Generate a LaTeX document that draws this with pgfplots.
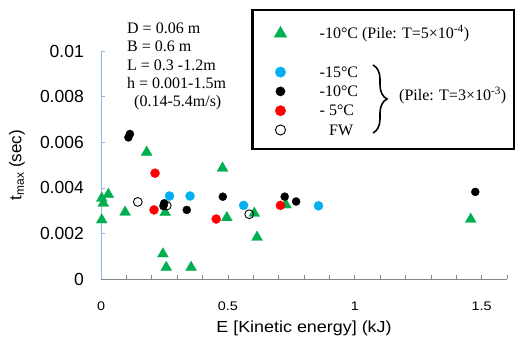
\documentclass[border=0pt]{standalone}
\usepackage{pgfplots}
\pgfplotsset{compat=1.18}
\usepackage{fontspec}
\setmainfont{Liberation Serif}
\newfontfamily\arial{Liberation Sans}
\newfontfamily\arialx{Liberation Sans}[FakeStretch=1.15]
\newfontfamily\arialxl{Liberation Sans}[FakeStretch=1.12]
\usetikzlibrary{decorations.pathreplacing}
\definecolor{mgreen}{RGB}{0,176,80}
\definecolor{mblue}{RGB}{0,176,240}
\definecolor{mred}{RGB}{255,0,0}
\definecolor{xgray}{RGB}{134,134,134}
\definecolor{yblue}{RGB}{141,180,227}
\newcommand{\lf}{\fontsize{16pt}{18pt}\selectfont}
\begin{document}
\begin{tikzpicture}
\useasboundingbox (-101pt,-61pt) rectangle (415pt,279pt);
\begin{axis}[
  at={(0pt,0pt)}, anchor=south west,
  scale only axis, width=406pt, height=228pt,
  xmin=0, xmax=1.6, ymin=0, ymax=0.01,
  clip=false,
  axis x line*=bottom, axis y line*=left,
  x axis line style={-, draw=xgray, line width=0.8pt},
  y axis line style={-, draw=yblue, line width=0.8pt},
  xtick={0,0.1,0.2,0.3,0.4,0.5,0.6,0.7,0.8,0.9,1,1.1,1.2,1.3,1.4,1.5,1.6},
  xticklabels={0,,,,,0.5,,,,,1,,,,,1.5,},
  ytick={0,0.002,0.004,0.006,0.008,0.01},
  yticklabels={0,0.002,0.004,0.006,0.008,0.01},
  scaled x ticks=false, scaled y ticks=false,
  tick align=inside,
  major tick length=4.5pt,
  x tick style={draw=xgray, line width=0.6pt},
  y tick style={draw=yblue, line width=0.6pt},
  xticklabel style={font={\arialx\fontsize{12.5pt}{14pt}\selectfont}, anchor=north, inner sep=0pt, yshift=-23pt},
  yticklabel style={font={\arial\fontsize{17.5pt}{20pt}\selectfont}, anchor=east, inner sep=0pt, xshift=-17pt},
  xlabel={E [Kinetic energy] (kJ)},
  xlabel style={font={\arialxl\fontsize{16pt}{18pt}\selectfont}, at={(axis description cs:0.5,-0.182)}, anchor=north, inner sep=0pt},
  ylabel={t\textsubscript{max} (sec)},
  ylabel style={font={\arial\fontsize{17pt}{20pt}\selectfont}, at={(axis description cs:-0.2069,0.5)}, anchor=center, rotate=0, inner sep=0pt},
  legend image code/.code={\draw[#1, every mark/.append style={scale=1.15}] plot coordinates {(0pt,0pt)};},
  legend cell align=left,
  legend style={at={(axis description cs:0.4261,1.12)}, anchor=north west,
    draw=none, fill=none, inner sep=0pt, row sep=0pt, column sep=33pt,
    font=\lf, nodes={inner sep=0pt, text height=14.7pt, text depth=4.6pt},
    row 2/.style={nodes={text height=17.7pt, text depth=4.6pt}}},
]
\addplot[only marks, mark=triangle*, mark size=6.3pt, mark options={fill=mgreen, draw=mgreen, line width=0.3pt}] coordinates {
(0.029,0.00371) (0.003,0.00354) (0.009,0.00332) (0.003,0.00259)
(0.095,0.00293) (0.180,0.00556) (0.253,0.00292) (0.244,0.00110)
(0.257,0.00051) (0.355,0.00051) (0.479,0.00486) (0.496,0.00269)
(0.604,0.00288) (0.615,0.00183) (0.729,0.00325) (1.457,0.00262)
};
\addlegendentry{-10°C (Pile: T=5×10\textsuperscript{-4})}
\addlegendimage{empty legend}
\addlegendentry{}
\addplot[only marks, mark=*, mark size=4.6pt, mark options={fill=mblue, draw=mblue, line width=0.2pt}] coordinates {
(0.270,0.00364) (0.351,0.00364) (0.562,0.00323) (0.857,0.00321)
};
\addlegendentry{-15°C}
\addplot[only marks, mark=*, mark size=4.1pt, mark options={fill=black, draw=black, line width=0.2pt}] coordinates {
(0.114,0.00636) (0.108,0.00621) (0.249,0.00332) (0.246,0.00320)
(0.338,0.00303) (0.480,0.00361) (0.724,0.00361) (0.769,0.00340)
(1.475,0.00382)
};
\addlegendentry{-10°C}
\addplot[only marks, mark=*, mark size=4.6pt, mark options={fill=mred, draw=mred, line width=0.2pt}] coordinates {
(0.213,0.00464) (0.209,0.00303) (0.454,0.00263) (0.707,0.00323)
};
\addlegendentry{- 5°C}
\addplot[only marks, mark=o, mark size=4.4pt, mark options={draw=black, fill=none, line width=0.9pt}] coordinates {
(0.145,0.00338) (0.259,0.00322) (0.584,0.00284)
};
\addlegendentry{\hspace{9.5pt}FW}
\end{axis}
\draw[line width=2.5pt] (151.7pt,269pt) rectangle (413pt,130pt);
\draw[decorate, decoration={brace, amplitude=14pt}, line width=1.6pt] (272pt,214pt) -- (272pt,146pt);
\node[anchor=base west, font=\lf, inner sep=0pt] at (298pt,178.3pt) {(Pile: T=3×10\textsuperscript{-3})};
\node[anchor=base west, font=\lf, inner sep=0pt] at (26pt,245.7pt) {D = 0.06 m};
\node[anchor=base west, font=\lf, inner sep=0pt] at (26pt,227.3pt) {B = 0.6 m};
\node[anchor=base west, font=\lf, inner sep=0pt] at (26pt,208.3pt) {L = 0.3 -1.2m};
\node[anchor=base west, font=\lf, inner sep=0pt] at (26pt,190.3pt) {h = 0.001-1.5m};
\node[anchor=base west, font=\lf, inner sep=0pt] at (33pt,172.3pt) {(0.14-5.4m/s)};
\end{tikzpicture}
\end{document}
